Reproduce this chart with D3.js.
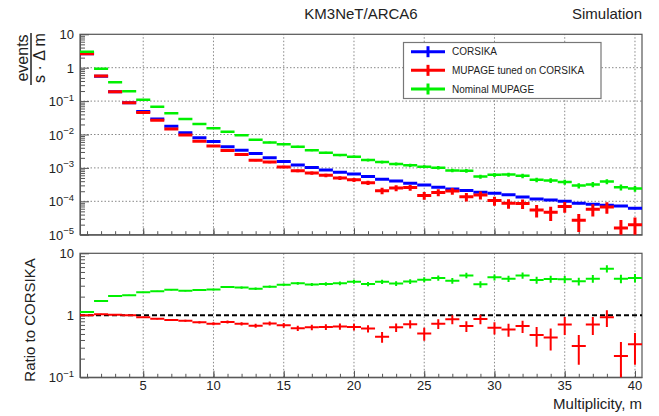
<!DOCTYPE html>
<html>
<head>
<meta charset="utf-8">
<script src="https://cdnjs.cloudflare.com/ajax/libs/d3/7.8.5/d3.min.js"></script>
<style>
body { margin: 0; background: #fff; }
text { font-family: "Liberation Sans", Arial, sans-serif; fill: #222; }
</style>
</head>
<body>
<script>
// bins of multiplicity m
var multiplicity = [1,2,3,4,5,6,7,8,9,10,11,12,13,14,15,16,17,18,19,20,
                    21,22,23,24,25,26,27,28,29,30,31,32,33,34,35,36,37,38,39,40];

// events / (s * dm), top panel
var corsika = [2.6, 0.55, 0.19, 0.09, 0.049, 0.029, 0.0176, 0.0113, 0.0080, 0.0062,
               0.0043, 0.0034, 0.0027, 0.0020, 0.00155, 0.00122, 0.00102, 8.7e-4, 7.4e-4, 6.6e-4,
               5.5e-4, 4.6e-4, 4.05e-4, 3.5e-4, 3.1e-4, 2.65e-4, 2.35e-4, 2.1e-4, 1.86e-4, 1.74e-4,
               1.58e-4, 1.34e-4, 1.17e-4, 1.09e-4, 1.0e-4, 8.7e-5, 8.1e-5, 7.6e-5, 7.2e-5, 6.2e-5];
var mupageTuned = [2.6, 0.56, 0.19, 0.089, 0.0452, 0.0267, 0.0146, 0.0097, 0.0063, 0.0045,
                   0.0033, 0.0025, 0.0017, 0.0015, 1.07e-3, 8.2e-4, 7.0e-4, 6.0e-4, 5.0e-4, 4.4e-4,
                   3.6e-4, 2.07e-4, 2.5e-4, 2.57e-4, 1.5e-4, 1.85e-4, 2.05e-4, 1.38e-4, 1.55e-4, 1.05e-4,
                   8.8e-5, 8.6e-5, 5.5e-5, 4.7e-5, 7.0e-5, 2.7e-5, 5.8e-5, 6.8e-5, 1.6e-5, 2.0e-5];
var mupageNominal = [3.0, 0.93, 0.365, 0.196, 0.11, 0.068, 0.043, 0.029, 0.0206, 0.0153,
                     0.0121, 0.0095, 0.0070, 0.0058, 0.0051, 0.0043, 0.0034, 0.00285, 0.00243, 0.00216,
                     0.00172, 0.0015, 0.00131, 0.0012, 0.00109, 0.00101, 8.4e-4, 8.2e-4, 5.5e-4, 6.2e-4,
                     6.3e-4, 5.8e-4, 4.4e-4, 4.2e-4, 3.8e-4, 2.95e-4, 3.2e-4, 3.9e-4, 2.65e-4, 2.4e-4];

// relative errors, top panel
var relErrCorsika = [0.005,0.005,0.005,0.01,0.01,0.01,0.01,0.015,0.015,0.015,
                     0.02,0.02,0.02,0.025,0.025,0.025,0.03,0.03,0.03,0.035,
                     0.035,0.035,0.04,0.04,0.04,0.045,0.045,0.045,0.05,0.05,
                     0.05,0.055,0.055,0.055,0.06,0.06,0.06,0.065,0.065,0.07];
var relErrTuned = [0.01,0.01,0.01,0.015,0.02,0.02,0.025,0.03,0.035,0.04,
                   0.05,0.06,0.07,0.08,0.09,0.1,0.11,0.12,0.13,0.14,
                   0.15,0.22,0.2,0.2,0.26,0.24,0.23,0.28,0.27,0.3,
                   0.32,0.32,0.4,0.45,0.35,0.55,0.4,0.38,0.72,0.65];
var relErrNominal = [0.01,0.01,0.01,0.015,0.02,0.02,0.025,0.03,0.03,0.035,
                     0.04,0.045,0.05,0.055,0.06,0.065,0.07,0.075,0.08,0.085,
                     0.09,0.1,0.1,0.11,0.11,0.12,0.12,0.13,0.14,0.14,
                     0.14,0.15,0.16,0.16,0.17,0.18,0.18,0.17,0.2,0.2];

// ratio to CORSIKA, bottom panel
var ratioTuned = [1.0, 1.04, 1.02, 1.0, 0.93, 0.88, 0.84, 0.82, 0.77, 0.73,
                  0.78, 0.73, 0.68, 0.74, 0.69, 0.62, 0.64, 0.65, 0.66, 0.65,
                  0.61, 0.45, 0.64, 0.72, 0.51, 0.73, 0.86, 0.67, 0.87, 0.63,
                  0.59, 0.67, 0.48, 0.44, 0.71, 0.32, 0.71, 0.93, 0.22, 0.34];
var ratioTunedErr = [0.015,0.015,0.015,0.02,0.02,0.025,0.03,0.03,0.035,0.04,
                     0.045,0.045,0.05,0.055,0.06,0.06,0.065,0.07,0.075,0.08,
                     0.08,0.09,0.1,0.11,0.12,0.13,0.14,0.13,0.15,0.14,
                     0.14,0.15,0.17,0.17,0.23,0.16,0.23,0.28,0.15,0.18];
var ratioNominal = [1.13, 1.70, 2.05, 2.1, 2.35, 2.44, 2.59, 2.49, 2.56, 2.6,
                    2.86, 2.8, 2.69, 2.9, 3.12, 3.28, 3.15, 3.2, 3.28, 3.48,
                    3.2, 3.48, 3.25, 3.5, 3.75, 4.0, 3.6, 4.4, 3.16, 4.1,
                    3.9, 4.4, 3.7, 3.85, 3.8, 3.53, 3.9, 5.65, 3.9, 4.0];
var ratioNominalErr = [0.02,0.03,0.04,0.05,0.05,0.06,0.07,0.07,0.08,0.09,
                       0.1,0.11,0.12,0.13,0.15,0.17,0.18,0.2,0.22,0.25,
                       0.25,0.28,0.28,0.3,0.35,0.38,0.38,0.45,0.38,0.45,
                       0.45,0.5,0.48,0.5,0.52,0.5,0.55,0.75,0.6,0.62];

// ticks and labels
var xLabelTicks = [5, 10, 15, 20, 25, 30, 35, 40];
var topDecades = [1e-5, 1e-4, 1e-3, 1e-2, 1e-1, 1, 10];
var topDecadeLabels = [["10","\u22125"],["10","\u22124"],["10","\u22123"],["10","\u22122"],["10","\u22121"],["1",""],["10",""]];
var botDecades = [0.1, 1, 10];
var botDecadeLabels = [["10","\u22121"],["1",""],["10",""]];

var legendNames = ["CORSIKA", "MUPAGE tuned on CORSIKA", "Nominal MUPAGE"];
var colors = ["#0000ff", "#ff0000", "#00f000"];

var W = 659, H = 416;
var svg = d3.select("body").append("svg").attr("width", W).attr("height", H);

var x = d3.scaleLinear().domain([0.5, 40.5]).range([80, 642]);
var yTop = d3.scaleLog().domain([1e-5, 10]).range([234.7, 34.3]);
var yBot = d3.scaleLog().domain([0.1, 10]).range([377.3, 253.3]);

function minorsOf(decades) {
    var out = [];
    decades.forEach(function(d, i) {
        if (i == decades.length - 1) return;
        for (var k = 2; k <= 9; k++) out.push(d * k);
    });
    return out;
}

var defs = svg.append("defs");
defs.append("clipPath").attr("id", "clipTop").append("rect")
    .attr("x", x.range()[0]).attr("y", yTop.range()[1])
    .attr("width", x.range()[1] - x.range()[0]).attr("height", yTop.range()[0] - yTop.range()[1]);
defs.append("clipPath").attr("id", "clipBot").append("rect")
    .attr("x", x.range()[0]).attr("y", yBot.range()[1])
    .attr("width", x.range()[1] - x.range()[0]).attr("height", yBot.range()[0] - yBot.range()[1]);

function panel(y, decades, labels, clipId, withXLabels, hGrid) {
    var g = svg.append("g");
    var y0 = y.range()[0], y1 = y.range()[1];
    var x0 = x.range()[0], x1 = x.range()[1];

    // grid
    var grid = g.append("g").attr("stroke", "#888").attr("stroke-width", 1).attr("stroke-dasharray", "1.5,2");
    grid.selectAll("line.gx").data(xLabelTicks)
        .enter().append("line").attr("class", "gx")
        .attr("x1", function(d) { return x(d) }).attr("x2", function(d) { return x(d) })
        .attr("y1", y0).attr("y2", y1);
    if (hGrid) {
        grid.selectAll("line.gy").data(decades.slice(1, decades.length - 1))
            .enter().append("line").attr("class", "gy")
            .attr("x1", x0).attr("x2", x1)
            .attr("y1", function(d) { return y(d) }).attr("y2", function(d) { return y(d) });
    }

    // y axis: major + minor ticks pointing inward
    g.append("g").attr("transform", "translate(" + x0 + ",0)")
        .call(d3.axisLeft(y).tickValues(decades).tickSizeInner(-9).tickSizeOuter(0).tickFormat(""))
        .call(function(a) { a.selectAll("path, line").attr("stroke", "#555"); });
    g.append("g").attr("transform", "translate(" + x0 + ",0)")
        .call(d3.axisLeft(y).tickValues(minorsOf(decades)).tickSizeInner(-5).tickSizeOuter(0).tickFormat(""))
        .call(function(a) { a.select("path").remove(); a.selectAll("line").attr("stroke", "#555"); });

    // x axis: ticks pointing up
    g.append("g").attr("transform", "translate(0," + y0 + ")")
        .call(d3.axisBottom(x).tickValues(multiplicity).tickSizeInner(-3.5).tickSizeOuter(0).tickFormat(""))
        .call(function(a) { a.selectAll("path, line").attr("stroke", "#555"); });
    g.append("g").attr("transform", "translate(0," + y0 + ")")
        .call(d3.axisBottom(x).tickValues(xLabelTicks).tickSizeInner(-6.5).tickSizeOuter(0).tickFormat(""))
        .call(function(a) { a.select("path").remove(); a.selectAll("line").attr("stroke", "#555"); });

    // frame
    g.append("rect").attr("x", x0).attr("y", y1).attr("width", x1 - x0).attr("height", y0 - y1)
        .attr("fill", "none").attr("stroke", "#555").attr("stroke-width", 1.2);

    // y labels
    var lab = g.selectAll("text.yl").data(decades).enter().append("text").attr("class", "yl")
        .attr("x", x0 - 6).attr("y", function(d) { return y(d) + 5 })
        .attr("text-anchor", "end").attr("font-size", 13);
    lab.append("tspan").text(function(d, i) { return labels[i][0] });
    lab.append("tspan").attr("dy", -5.5).attr("font-size", 9.5).text(function(d, i) { return labels[i][1] });

    if (withXLabels) {
        g.selectAll("text.xl").data(xLabelTicks).enter().append("text").attr("class", "xl")
            .attr("x", function(d) { return x(d) }).attr("y", y0 + 12.5)
            .attr("text-anchor", "middle").attr("font-size", 13)
            .text(function(d) { return d });
    }
    return svg.append("g").attr("clip-path", "url(#" + clipId + ")");
}

function drawSeries(g, y, vals, errs, color, lw) {
    var s = g.append("g").attr("stroke", color).attr("stroke-width", lw).attr("fill", "none");
    s.selectAll("line.h").data(vals).enter().append("line").attr("class", "h")
        .attr("x1", function(d, i) { return x(multiplicity[i] - 0.5) })
        .attr("x2", function(d, i) { return x(multiplicity[i] + 0.5) })
        .attr("y1", function(d) { return y(d) })
        .attr("y2", function(d) { return y(d) });
    s.selectAll("line.v").data(vals).enter().append("line").attr("class", "v")
        .attr("x1", function(d, i) { return x(multiplicity[i]) })
        .attr("x2", function(d, i) { return x(multiplicity[i]) })
        .attr("y1", function(d, i) { return y(d + errs[i]) })
        .attr("y2", function(d, i) { return y(Math.max(d - errs[i], 1e-9)) });
}

function absErr(vals, rel) {
    return vals.map(function(v, i) { return v * rel[i]; });
}

// top panel
var topG = panel(yTop, topDecades, topDecadeLabels, "clipTop", false, true);
drawSeries(topG, yTop, corsika, absErr(corsika, relErrCorsika), colors[0], 3);
drawSeries(topG, yTop, mupageTuned, absErr(mupageTuned, relErrTuned), colors[1], 3);
drawSeries(topG, yTop, mupageNominal, absErr(mupageNominal, relErrNominal), colors[2], 2.5);

// bottom panel
var botG = panel(yBot, botDecades, botDecadeLabels, "clipBot", true, false);
botG.append("line").attr("x1", x.range()[0]).attr("x2", x.range()[1])
    .attr("y1", yBot(1)).attr("y2", yBot(1))
    .attr("stroke", "#000").attr("stroke-width", 2).attr("stroke-dasharray", "5,3");
drawSeries(botG, yBot, ratioNominal, ratioNominalErr, colors[2], 2);
drawSeries(botG, yBot, ratioTuned, ratioTunedErr, colors[1], 2);

// legend
var leg = svg.append("g");
leg.append("rect").attr("x", 403.5).attr("y", 42.5).attr("width", 197.5).attr("height", 56)
    .attr("fill", "#fff").attr("stroke", "#777").attr("stroke-width", 1.2);
var legY = d3.scalePoint().domain(legendNames).range([51.7, 89]);
legendNames.forEach(function(name, i) {
    var yy = legY(name);
    leg.append("line").attr("x1", 411).attr("x2", 445).attr("y1", yy).attr("y2", yy)
        .attr("stroke", colors[i]).attr("stroke-width", 3);
    leg.append("line").attr("x1", 428).attr("x2", 428).attr("y1", yy - 5.5).attr("y2", yy + 5.5)
        .attr("stroke", colors[i]).attr("stroke-width", 3);
    leg.append("text").attr("x", 452).attr("y", yy + 3.6).attr("font-size", 10).text(name);
});

// titles
svg.append("text").attr("x", 361).attr("y", 18.5).attr("text-anchor", "middle")
    .attr("font-size", 15).text("KM3NeT/ARCA6");
svg.append("text").attr("x", 642).attr("y", 18.5).attr("text-anchor", "end")
    .attr("font-size", 15).text("Simulation");
svg.append("text").attr("x", 642).attr("y", 409).attr("text-anchor", "end")
    .attr("font-size", 15).text("Multiplicity, m");
svg.append("text").attr("transform", "translate(35,320) rotate(-90)").attr("text-anchor", "middle")
    .attr("font-size", 15).text("Ratio to CORSIKA");

// y title of top panel as a fraction
svg.append("text").attr("transform", "translate(27.5,58) rotate(-90)").attr("text-anchor", "middle")
    .attr("font-size", 16).text("events");
svg.append("line").attr("x1", 31).attr("x2", 31).attr("y1", 33).attr("y2", 85)
    .attr("stroke", "#222").attr("stroke-width", 1.5);
svg.append("text").attr("transform", "translate(44.5,58) rotate(-90)").attr("text-anchor", "middle")
    .attr("font-size", 16).text("s \u00b7 \u0394 m");
</script>
</body>
</html>
